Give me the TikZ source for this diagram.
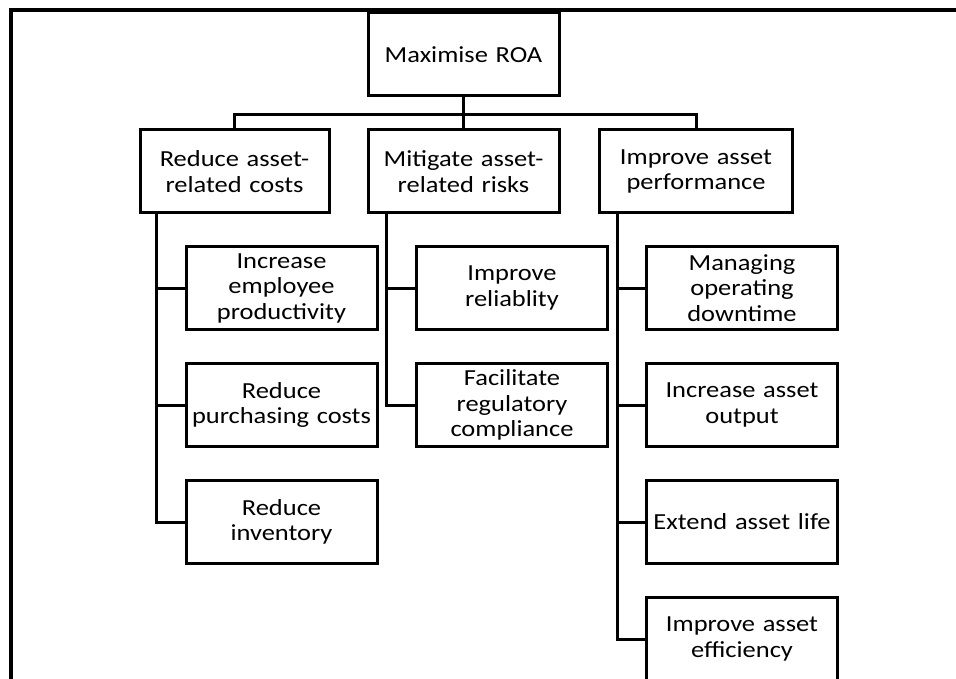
\documentclass[tikz,border=0pt]{standalone}
\usepackage{fontspec}
\setmainfont{Carlito}[FakeStretch=1.15]
\usetikzlibrary{calc}
\tikzset{
  box/.style={draw, line width=3pt, minimum width=191pt, minimum height=83pt,
    inner sep=0pt, text width=186pt, align=center,
    font=\fontsize{23}{25.5}\selectfont},
  link/.style={line width=3pt},
  frame/.style={line width=3.3pt},
}
\begin{document}
\begin{tikzpicture}[x=1pt, y=-1pt]
\path[use as bounding box] (0,0) rectangle (956,679);
\clip (0,0) rectangle (956,679);

% outer frame (top and left edges)
\draw[frame] (11,690) -- (11,10) -- (960,10);

% goal and the three strategies
\node[box] (root) at (463.5,54.5) {Maximise ROA};
\node[box, minimum width=189pt] (cost) at (234.5,171.5) {Reduce asset-\\related costs};
\node[box] (risk) at (463.5,171.5) {Mitigate asset-\\related risks};
\node[box, minimum width=193pt] (perf) at (696,171.5) {Improve asset\\performance};

% measures under each strategy
\node[box] (c1) at (281.5,288) {Increase\\employee\\productivity};
\node[box] (c2) at (281.5,405) {Reduce\\purchasing costs};
\node[box] (c3) at (281.5,522) {Reduce\\inventory};

\node[box] (r1) at (512,288) {Improve\\reliablity};
\node[box] (r2) at (512,405) {Facilitate\\regulatory\\compliance};

\node[box] (p1) at (742,288) {Managing\\operating\\downtime};
\node[box] (p2) at (742,405) {Increase asset\\output};
\node[box] (p3) at (742,522) {Extend asset life};
\node[box] (p4) at (742,639) {Improve asset\\efficiency};

% top-level bus
\coordinate (bus) at ($(root.south)+(0,17)$);
\draw[link] (root.south) -- (risk.north);
\draw[link] (cost.north) |- (bus) -| (perf.north);

% trunks with side branches
\coordinate (ct) at ($(cost.south west)+(18,0)$);
\draw[link] (ct) |- (c3.west);
\draw[link] (ct |- c1.west) -- (c1.west);
\draw[link] (ct |- c2.west) -- (c2.west);

\coordinate (rt) at ($(risk.south west)+(20,0)$);
\draw[link] (rt) |- (r2.west);
\draw[link] (rt |- r1.west) -- (r1.west);

\coordinate (pt) at ($(perf.south west)+(19,0)$);
\draw[link] (pt) |- (p4.west);
\draw[link] (pt |- p1.west) -- (p1.west);
\draw[link] (pt |- p2.west) -- (p2.west);
\draw[link] (pt |- p3.west) -- (p3.west);
\end{tikzpicture}
\end{document}
